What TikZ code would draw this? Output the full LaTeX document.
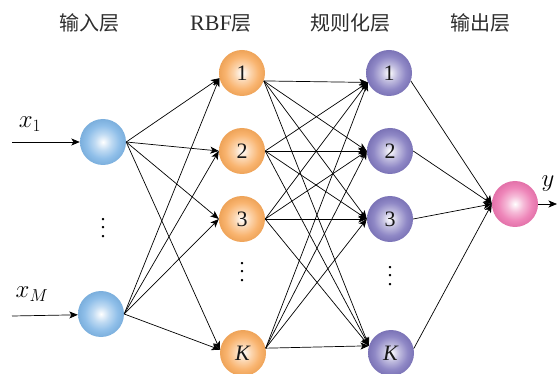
\documentclass[tikz,border=0pt]{standalone}
\usepackage{fontspec}
\setmainfont{Liberation Serif}
\newfontfamily\cjk{Noto Sans CJK SC}
\usetikzlibrary{arrows.meta}

% layer colours
\definecolor{inblue}{RGB}{128,182,230}
\definecolor{rbforange}{RGB}{248,170,92}
\definecolor{regpurple}{RGB}{128,120,190}
\definecolor{outpink}{RGB}{236,118,176}
\definecolor{headgray}{RGB}{45,45,45}

% soft spheres: white core fading to the layer colour at the rim
% (the rim of a shaded circle sits at 25bp of the shading)
\pgfdeclareradialshading{ballblue}{\pgfpointorigin}{color(0bp)=(white); color(9bp)=(inblue!50!white); color(18bp)=(inblue!88!white); color(25bp)=(inblue!96!black); color(50bp)=(inblue!96!black)}
\pgfdeclareradialshading{ballorange}{\pgfpointorigin}{color(0bp)=(white); color(9bp)=(rbforange!50!white); color(18bp)=(rbforange!88!white); color(25bp)=(rbforange!96!black); color(50bp)=(rbforange!96!black)}
\pgfdeclareradialshading{ballpurple}{\pgfpointorigin}{color(0bp)=(white); color(9bp)=(regpurple!50!white); color(18bp)=(regpurple!88!white); color(25bp)=(regpurple!96!black); color(50bp)=(regpurple!96!black)}
\pgfdeclareradialshading{ballpink}{\pgfpointorigin}{color(0bp)=(white); color(9bp)=(outpink!50!white); color(18bp)=(outpink!88!white); color(25bp)=(outpink!96!black); color(50bp)=(outpink!96!black)}

% vertical ellipsis with a wide dot pitch
\newcommand\tallvdots{\vbox{\baselineskip=8.3pt\lineskiplimit=0pt\hbox{.}\hbox{.}\hbox{.}}}

\begin{document}
\begin{tikzpicture}[x=1pt,y=-1pt,
  neuron/.style={circle,minimum size=46pt,inner sep=0pt,text=black!90,font=\fontsize{22}{22}\selectfont},
  inneuron/.style={neuron,shading=ballblue},
  rbfneuron/.style={neuron,shading=ballorange},
  regneuron/.style={neuron,shading=ballpurple},
  outneuron/.style={neuron,shading=ballpink},
  head/.style={text=headgray,font=\fontsize{22}{22}\selectfont},
  cjkhead/.style={font=\fontsize{20}{20}\selectfont\cjk},
  conn/.style={line width=0.7pt,-{Stealth[length=8.5pt,width=7pt,inset=2.2pt]}},
  vdotsnode/.style={inner sep=0pt,font=\fontsize{20}{20}\selectfont},
  varlabel/.style={font=\fontsize{24}{24}\selectfont}
]
\useasboundingbox (0,0) rectangle (557,374);

% layer titles
\node[head] (h1) at (89,23) {\cjk\fontsize{20}{20}\selectfont 输入层};
\node[head] (h2) at (221,23) {RBF{\cjk\fontsize{20}{20}\selectfont 层}};
\node[head] (h3) at (350,23) {\cjk\fontsize{20}{20}\selectfont 规则化层};
\node[head] (h4) at (480,23) {\cjk\fontsize{20}{20}\selectfont 输出层};

% input layer
\node[inneuron] (i1) at (103,142) {};
\node[inneuron] (iM) at (101,314) {};
\node[vdotsnode] (d0) at (103,228) {\tallvdots};

% RBF layer
\node[rbfneuron] (r1) at (242,73) {1};
\node[rbfneuron] (r2) at (242,151) {2};
\node[rbfneuron] (r3) at (242,219) {3};
\node[vdotsnode] (d1) at (242,272) {\tallvdots};
\node[rbfneuron] (rK) at (243,353) {\textit{K}};

% regularisation layer
\node[regneuron] (g1) at (389,73) {1};
\node[regneuron] (g2) at (390,151) {2};
\node[regneuron] (g3) at (390,219) {3};
\node[vdotsnode] (d2) at (390,276) {\tallvdots};
\node[regneuron] (gK) at (391,353) {\textit{K}};

% output layer
\node[outneuron] (o) at (515,204) {};

% inputs
\coordinate (s1) at (12,142);
\coordinate (sM) at (12,316);
\draw[conn] (s1) -- (i1.west);
\draw[conn] (sM) -- (iM.182);
\node[varlabel] (lx1) at (30,124) {$x_1$};
\node[varlabel] (lxM) at (32,294) {$x_M$};

% input -> RBF
\foreach \s in {i1,iM}
  \foreach \t in {r1.193,r2.180,r3.180,rK.172}
    \draw[conn] (\s.east) -- (\t);

% RBF -> regularisation (fully connected)
\foreach \s in {r1.-20,r2.0,r3.0,rK.12}
  \foreach \t in {g1.204,g2.180,g3.180,gK.162}
    \draw[conn] (\s) -- (\t);

% regularisation -> output
\foreach \s in {g1.-20,g2.0,g3.0,gK.11}
  \draw[conn] (\s) -- (o.180);

% output
\coordinate (yend) at (557,204);
\draw[conn] (o.east) -- (yend);
\node[varlabel] (ly) at (548,184) {$y$};
\end{tikzpicture}
\end{document}
